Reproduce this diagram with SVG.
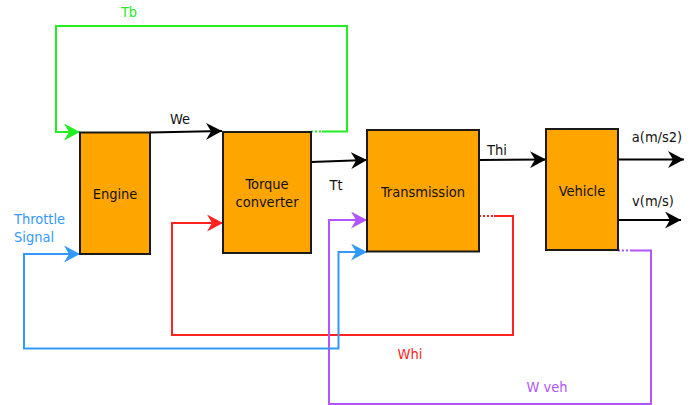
<svg xmlns="http://www.w3.org/2000/svg" width="696" height="405" viewBox="0 0 696 405">
<style>
.box{fill:#FFA500;stroke:#1a1a1a;stroke-width:2}
.t{font-family:"DejaVu Sans Condensed","DejaVu Sans",sans-serif;font-size:14.5px;fill:#111;text-anchor:middle}
.l{fill:none;stroke-width:2}
.k{stroke:#000}
.g{stroke:#22ee22}
.r{stroke:#ff2222}
.b{stroke:#3399ff}
.p{stroke:#b255ff}
.d{stroke-dasharray:2,2}
</style>
<defs>
<marker id="ak" viewBox="0 0 17 17" refX="16" refY="8.5" markerWidth="17" markerHeight="17" markerUnits="userSpaceOnUse" orient="auto"><path d="M0,0 L16,8.5 L0,17 L5,8.5 Z" fill="#000"/></marker>
<marker id="ag" viewBox="0 0 17 17" refX="16" refY="8.5" markerWidth="17" markerHeight="17" markerUnits="userSpaceOnUse" orient="auto"><path d="M0,0 L16,8.5 L0,17 L5,8.5 Z" fill="#22ee22"/></marker>
<marker id="ar" viewBox="0 0 17 17" refX="16" refY="8.5" markerWidth="17" markerHeight="17" markerUnits="userSpaceOnUse" orient="auto"><path d="M0,0 L16,8.5 L0,17 L5,8.5 Z" fill="#ff2222"/></marker>
<marker id="ab" viewBox="0 0 17 17" refX="16" refY="8.5" markerWidth="17" markerHeight="17" markerUnits="userSpaceOnUse" orient="auto"><path d="M0,0 L16,8.5 L0,17 L5,8.5 Z" fill="#3399ff"/></marker>
<marker id="ap" viewBox="0 0 17 17" refX="16" refY="8.5" markerWidth="17" markerHeight="17" markerUnits="userSpaceOnUse" orient="auto"><path d="M0,0 L16,8.5 L0,17 L5,8.5 Z" fill="#b255ff"/></marker>
</defs>
<g id="connectors">
<path class="l k" d="M150,132.5 L222,131" marker-end="url(#ak)"/>
<path class="l k" d="M311,162 L367,160" marker-end="url(#ak)"/>
<path class="l k" d="M479,160 L546,159.5" marker-end="url(#ak)"/>
<path class="l k" d="M618,159.5 L684,159.5" marker-end="url(#ak)"/>
<path class="l k" d="M618,220 L681,220" marker-end="url(#ak)"/>
<path class="l g d" d="M311,131.5 L322,131.5"/>
<path class="l g" d="M322,131.5 L347,131.5 L347,26 L56,26 L56,132 L80,132" marker-end="url(#ag)"/>
<path class="l r d" d="M479,216 L494,216"/>
<path class="l r" d="M494,216 L513,216 L513,335 L172,335 L172,223 L223,223" marker-end="url(#ar)"/>
<path class="l p d" d="M618,250.5 L632,250.5"/>
<path class="l p" d="M632,250.5 L651,250.5 L651,404 L329,404 L329,220 L367,220" marker-end="url(#ap)"/>
<path class="l b" d="M24,262 L24,254 L80,254" marker-end="url(#ab)"/>
<path class="l b" d="M24,262 L24,348.5 L338.5,348.5 L338.5,252 L367,252" marker-end="url(#ab)"/>
</g>
<g id="engine">
<rect class="box" x="80" y="132.5" width="70" height="121.5"/>
<text class="t" x="115" y="199">Engine</text>
</g>
<g id="torque-converter">
<rect class="box" x="223" y="132" width="88" height="121"/>
<text class="t" x="267" y="189">Torque</text>
<text class="t" x="267" y="206.5">converter</text>
</g>
<g id="transmission">
<rect class="box" x="367" y="130" width="112" height="121.5"/>
<text class="t" x="423" y="197">Transmission</text>
</g>
<g id="vehicle">
<rect class="box" x="546" y="129" width="72" height="121"/>
<text class="t" x="582" y="196">Vehicle</text>
</g>
<g id="labels">
<text class="t" x="180" y="124">We</text>
<text class="t" x="336" y="190">Tt</text>
<text class="t" x="497" y="155">Thi</text>
<text class="t" x="657" y="142">a(m/s2)</text>
<text class="t" x="653" y="206">v(m/s)</text>
<text class="t" x="129" y="17" style="fill:#22ee22">Tb</text>
<text class="t" x="14" y="224" style="fill:#3399ff;text-anchor:start">Throttle</text>
<text class="t" x="14" y="242" style="fill:#3399ff;text-anchor:start">Signal</text>
<text class="t" x="410" y="359" style="fill:#ff2222">Whi</text>
<text class="t" x="547" y="392" style="fill:#b255ff">W veh</text>
</g>
</svg>
